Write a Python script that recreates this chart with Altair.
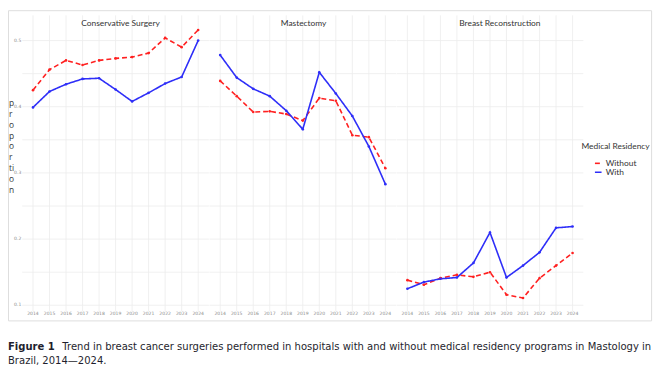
import altair as alt
import pandas as pd

years = list(range(2014, 2025))
panels = ["Conservative Surgery", "Mastectomy", "Breast Reconstruction"]
groups = ["Without", "With"]

cons_without = [0.425, 0.456, 0.470, 0.463, 0.470, 0.473, 0.475, 0.481, 0.504, 0.490, 0.516]
cons_with = [0.399, 0.423, 0.434, 0.442, 0.443, 0.426, 0.408, 0.421, 0.435, 0.445, 0.500]
mast_without = [0.439, 0.416, 0.392, 0.393, 0.389, 0.379, 0.413, 0.409, 0.357, 0.354, 0.307]
mast_with = [0.478, 0.444, 0.427, 0.416, 0.394, 0.366, 0.452, 0.420, 0.386, 0.340, 0.283]
recon_without = [0.138, 0.131, 0.141, 0.146, 0.143, 0.150, 0.116, 0.111, 0.141, 0.160, 0.179]
recon_with = [0.125, 0.135, 0.140, 0.142, 0.164, 0.210, 0.142, 0.160, 0.180, 0.217, 0.219]

y_tick_values = [0.1, 0.2, 0.3, 0.4, 0.5]
y_grid_values = [0.1, 0.15, 0.2, 0.25, 0.3, 0.35, 0.4, 0.45, 0.5]
y_title_lines = ["p", "r", "o", "p", "o", "r", "ti", "o", "n"]
caption_bold = "Figure 1"
caption_line1 = ("Trend in breast cancer surgeries performed in hospitals with and without "
                 "medical residency programs in Mastology in")
caption_line2 = "Brazil, 2014\u20142024."

series = {
    ("Conservative Surgery", "Without"): cons_without,
    ("Conservative Surgery", "With"): cons_with,
    ("Mastectomy", "Without"): mast_without,
    ("Mastectomy", "With"): mast_with,
    ("Breast Reconstruction", "Without"): recon_without,
    ("Breast Reconstruction", "With"): recon_with,
}

GAP = 11.333          # panel spacing, in year units
PAD = 0.65            # panel expansion, in year units
PANEL_Y = (0.091, 0.538)
TITLE_SHIFT = [0.3, 0.05, 0.6]   # small horizontal nudge of each panel title

rows = []
for pi, p in enumerate(panels):
    for g in groups:
        for yr, v in zip(years, series[(p, g)]):
            rows.append(dict(panel=p, pidx=pi, group=g, year=yr, value=v,
                             xpos=yr - 2014 + pi * GAP))
df = pd.DataFrame(rows)

vgrid = pd.DataFrame([dict(pidx=pi, year=yr, label=str(yr), xpos=yr - 2014 + pi * GAP,
                           y1=PANEL_Y[0], y2=PANEL_Y[1])
                      for pi in range(len(panels)) for yr in years])
hgrid = pd.DataFrame([dict(pidx=pi, v=v, x1=-PAD + pi * GAP, x2=10 + PAD + pi * GAP)
                      for pi in range(len(panels)) for v in y_grid_values])
titles = pd.DataFrame([dict(panel=p, xpos=5 + TITLE_SHIFT[pi] + pi * GAP)
                       for pi, p in enumerate(panels)])
yticks = pd.DataFrame(dict(v=y_tick_values, label=[f"{v:.1f}" for v in y_tick_values]))

W, H = 651, 314
xs = alt.Scale(domain=[-1.513, 37.42], nice=False, zero=False)
ys = alt.Scale(domain=[0.07716, 0.54582], nice=False, zero=False)
GRID = "#ececec"

vg = alt.Chart(vgrid).mark_rule(color=GRID, strokeWidth=0.8).encode(
    x=alt.X("xpos:Q", scale=xs, axis=None),
    y=alt.Y("y1:Q", scale=ys, axis=None),
    y2="y2:Q",
)
hg = alt.Chart(hgrid).mark_rule(color=GRID, strokeWidth=0.8).encode(
    x=alt.X("x1:Q", scale=xs, axis=None),
    x2="x2:Q",
    y=alt.Y("v:Q", scale=ys, axis=None),
)
xlab = alt.Chart(vgrid).mark_text(fontSize=4.6, color="#8a8a8a", font="DejaVu Sans",
                                  baseline="middle").encode(
    x=alt.X("xpos:Q", scale=xs, axis=None),
    y=alt.value(308),
    text="label:N",
)
ylab = alt.Chart(yticks).mark_text(fontSize=4.6, color="#8a8a8a", font="DejaVu Sans",
                                   align="right", baseline="middle").encode(
    x=alt.value(13.5),
    y=alt.Y("v:Q", scale=ys, axis=None),
    text="label:N",
)
ttl = alt.Chart(titles).mark_text(fontSize=8.5, color="#333333", font="Lato",
                                  baseline="middle").encode(
    x=alt.X("xpos:Q", scale=xs, axis=None),
    y=alt.value(13),
    text="panel:N",
)
ytitle = alt.Chart(pd.DataFrame({"t": [0]})).mark_text(
    fontSize=8.5, color="#333333", font="Open Sans", align="left", baseline="middle",
    lineHeight=11).encode(
    x=alt.value(1), y=alt.value(94), text=alt.value(y_title_lines))

legend_cfg = dict(title="Medical Residency", orient="none", legendX=580, legendY=134,
                  titleFont="Lato", titleFontSize=8.5, titleFontWeight="normal",
                  titleColor="#333333", titleAnchor="middle", titlePadding=8,
                  labelFont="Lato", labelFontSize=8.5, labelColor="#333333",
                  symbolSize=45, symbolStrokeWidth=1.6, rowPadding=0, labelOffset=3)

color_scale = alt.Scale(domain=groups, range=["#ff2020", "#2e2ef8"])
lines = alt.Chart(df).mark_line(strokeWidth=1.6).encode(
    x=alt.X("xpos:Q", scale=xs, axis=None),
    y=alt.Y("value:Q", scale=ys, axis=None),
    color=alt.Color("group:N", scale=color_scale, legend=alt.Legend(**legend_cfg)),
    strokeDash=alt.StrokeDash("group:N",
                              scale=alt.Scale(domain=groups, range=[[5, 3], [1, 0]]),
                              legend=alt.Legend(**legend_cfg)),
    detail="panel:N",
)
pts = alt.Chart(df).mark_point(filled=True, size=7, opacity=1).encode(
    x=alt.X("xpos:Q", scale=xs, axis=None),
    y=alt.Y("value:Q", scale=ys, axis=None),
    color=alt.Color("group:N", scale=color_scale, legend=None),
)

CAP_FONT = "DejaVu Sans"
CAP_SIZE = 10.15
cap_b = alt.Chart(pd.DataFrame({"t": [caption_bold]})).mark_text(
    font=CAP_FONT, fontSize=CAP_SIZE, fontWeight="bold", color="#1f1f2e",
    align="left", baseline="alphabetic").encode(
    x=alt.value(0), y=alt.value(344), text="t:N")
cap_1 = alt.Chart(pd.DataFrame({"t": [caption_line1]})).mark_text(
    font=CAP_FONT, fontSize=CAP_SIZE, color="#1f1f2e",
    align="left", baseline="alphabetic").encode(
    x=alt.value(55), y=alt.value(344), text="t:N")
cap_2 = alt.Chart(pd.DataFrame({"t": [caption_line2]})).mark_text(
    font=CAP_FONT, fontSize=CAP_SIZE, color="#1f1f2e",
    align="left", baseline="alphabetic").encode(
    x=alt.value(0), y=alt.value(358), text="t:N")

chart = alt.layer(vg, hg, xlab, ylab, ttl, ytitle, lines, pts, cap_b, cap_1, cap_2).properties(
    width=W, height=H,
    autosize=alt.AutoSizeParams(type="none"),
    padding={"left": 0, "top": 0, "right": 8, "bottom": 50},
).configure_view(stroke="#a9c9ee", strokeWidth=1.5).configure(background="white")

chart.save("out.html", embed_options={"renderer": "svg", "actions": False})
